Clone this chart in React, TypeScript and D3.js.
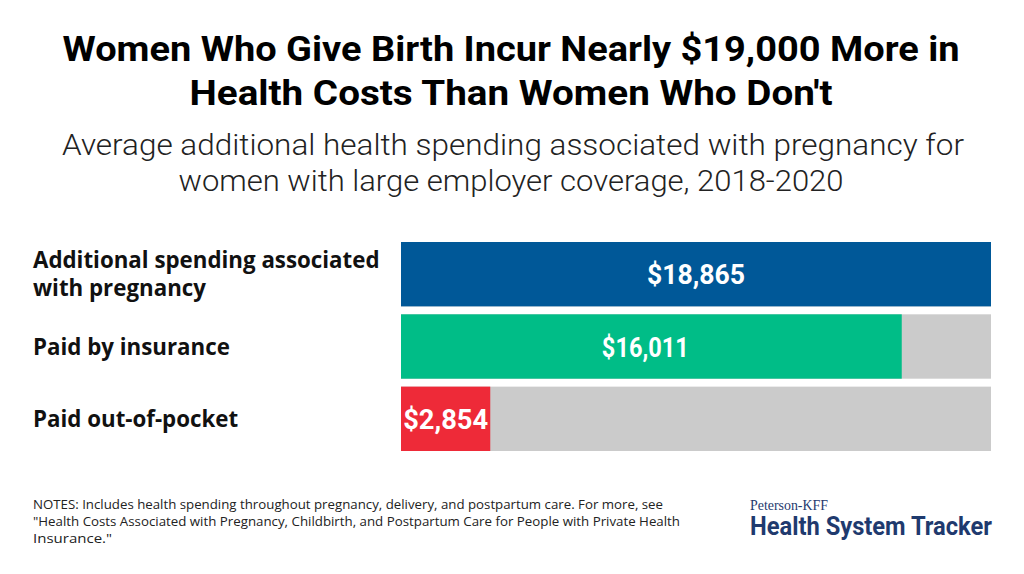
import React from "react";
import * as d3 from "d3";

const categories = [
  ["Additional spending associated", "with pregnancy"],
  ["Paid by insurance"],
  ["Paid out-of-pocket"],
];
const values = [18865, 16011, 2854];
const valueLabels = ["$18,865", "$16,011", "$2,854"];
const totalValue = 18865;
const barColors = ["#005898", "#00BD87", "#EE2A38"];

const titleLines = [
  "Women Who Give Birth Incur Nearly $19,000 More in",
  "Health Costs Than Women Who Don't",
];
const subtitleLines = [
  "Average additional health spending associated with pregnancy for",
  "women with large employer coverage, 2018-2020",
];
const noteLines = [
  "NOTES: Includes health spending throughout pregnancy, delivery, and postpartum care. For more, see",
  "\"Health Costs Associated with Pregnancy, Childbirth, and Postpartum Care for People with Private Health",
  "Insurance.\"",
];

export default function App() {
  const W = 1024, H = 574;
  const x = d3.scaleLinear().domain([0, totalValue]).range([401, 991]);
  const y = d3.scaleBand<number>().domain([0, 1, 2]).range([242, 451]).paddingInner(0.11).paddingOuter(0);
  const labelWidths = [98, 87, 85];

  return (
    <div>
      <style>{`body{margin:0}`}</style>
      <svg width={W} height={H} style={{ display: "block", background: "#fff" }}>
        <rect x={0} y={0} width={W} height={H} fill="#fff" />
        {/* Title */}
        <g fontFamily="Roboto, sans-serif" fontWeight={700} fontSize={35} fill="#000" textAnchor="middle">
          <text x={511} y={61} textLength={897} lengthAdjust="spacingAndGlyphs">{titleLines[0]}</text>
          <text x={511} y={105} textLength={643} lengthAdjust="spacingAndGlyphs">{titleLines[1]}</text>
        </g>
        {/* Subtitle */}
        <g fontFamily="Roboto, sans-serif" fontWeight={300} fontSize={29} fill="#222" textAnchor="middle">
          <text x={513} y={155} textLength={902} lengthAdjust="spacingAndGlyphs">{subtitleLines[0]}</text>
          <text x={511} y={191} textLength={665} lengthAdjust="spacingAndGlyphs">{subtitleLines[1]}</text>
        </g>
        {/* Bars */}
        {values.map((v, i) => {
          const by = y(i)!;
          const bh = y.bandwidth();
          return (
            <g key={i}>
              <rect x={x(0)} y={by} width={x(totalValue) - x(0)} height={bh} fill="#CBCBCB" />
              <rect x={x(0)} y={by} width={x(v) - x(0)} height={bh} fill={barColors[i]} />
              <text
                x={(x(0) + x(v)) / 2 - (i === 1 ? 6 : 0)}
                y={by + bh / 2 + 10}
                textAnchor="middle"
                fontFamily="Roboto, sans-serif"
                fontWeight={700}
                fontSize={28}
                fill="#fff"
                textLength={labelWidths[i]}
                lengthAdjust="spacingAndGlyphs"
              >
                {valueLabels[i]}
              </text>
            </g>
          );
        })}
        {/* Category labels */}
        <g fontFamily="'Open Sans', sans-serif" fontWeight={700} fontSize={22.3} fill="#111">
          {categories.map((lines, i) => {
            const cy = y(i)! + y.bandwidth() / 2;
            const n = lines.length;
            return lines.map((l, j) => (
              <text key={i + "-" + j} x={33} y={cy + 8 + (j - (n - 1) / 2) * 28}>{l}</text>
            ));
          })}
        </g>
        {/* Notes */}
        <g fontFamily="'Open Sans', sans-serif" fontSize={13} fill="#222">
          <text x={33} y={509} textLength={630} lengthAdjust="spacingAndGlyphs">{noteLines[0]}</text>
          <text x={33} y={526} textLength={647} lengthAdjust="spacingAndGlyphs">{noteLines[1]}</text>
          <text x={33} y={543} textLength={79} lengthAdjust="spacingAndGlyphs">{noteLines[2]}</text>
        </g>
        {/* Logo */}
        <text x={750} y={510} fontFamily="'Liberation Serif', serif" fontSize={14} fill="#1F3A6E" textLength={78} lengthAdjust="spacingAndGlyphs">Peterson-KFF</text>
        <text x={750} y={535} fontFamily="Roboto, sans-serif" fontWeight={700} fontSize={26} fill="#1F3A6E" textLength={242} lengthAdjust="spacingAndGlyphs">Health System Tracker</text>
      </svg>
    </div>
  );
}
